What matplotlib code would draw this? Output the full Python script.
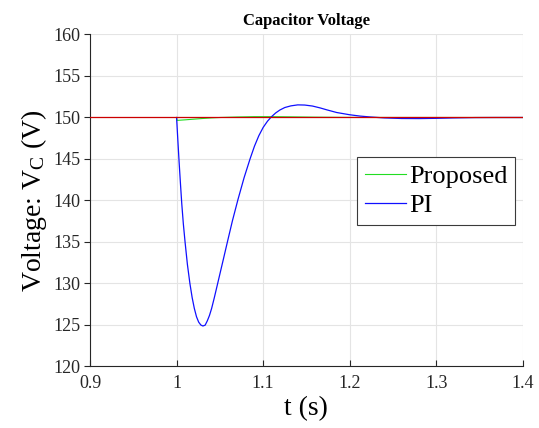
import matplotlib.pyplot as plt

# data
t_pi = [1.0, 1.0015, 1.003, 1.0045, 1.006, 1.0078, 1.0098, 1.0125, 1.0154, 1.018,
        1.0205, 1.023, 1.0255, 1.028, 1.0304, 1.033, 1.0355, 1.038, 1.0405, 1.0435,
        1.0469, 1.0505, 1.054, 1.0587, 1.0645, 1.071, 1.078, 1.085, 1.09, 1.095,
        1.1, 1.105, 1.1097, 1.1145, 1.1193, 1.125, 1.132, 1.14, 1.148,
        1.157, 1.166, 1.1736, 1.185, 1.2, 1.212, 1.224, 1.24, 1.26, 1.28,
        1.30, 1.32, 1.345, 1.37, 1.4]
v_pi = [150.0, 147.2, 144.5, 142.0, 139.6, 137.2, 135.0, 132.3, 130.0, 128.3,
        127.0, 126.0, 125.35, 125.0, 124.88, 124.98, 125.5, 126.15, 127.0, 128.25,
        129.75, 131.35, 132.9, 135.0, 137.55, 140.15, 142.75, 145.05, 146.55, 147.8,
        148.8, 149.55, 150.1, 150.55, 150.9, 151.2, 151.4, 151.52, 151.5,
        151.38, 151.15, 150.92, 150.6, 150.33, 150.17, 150.06, 149.95, 149.88, 149.87,
        149.9, 149.95, 149.99, 150.0, 150.0]

t_prop = [1.0, 1.0005, 1.01, 1.02, 1.03, 1.04, 1.05, 1.07, 1.09, 1.11, 1.13,
          1.16, 1.2, 1.25, 1.4]
v_prop = [150.0, 149.65, 149.72, 149.8, 149.88, 149.95, 150.0, 150.06, 150.1,
          150.1, 150.08, 150.04, 150.01, 150.0, 150.0]

v_ref = 150

xticks = [0.9, 1.0, 1.1, 1.2, 1.3, 1.4]
xtick_labels = ['0.9', '1', '1.1', '1.2', '1.3', '1.4']
yticks = [120, 125, 130, 135, 140, 145, 150, 155, 160]

plt.rcParams['font.family'] = ['Liberation Serif', 'DejaVu Serif']
plt.rcParams['mathtext.fontset'] = 'custom'
plt.rcParams['mathtext.rm'] = 'Liberation Serif'
plt.rcParams['mathtext.it'] = 'Liberation Serif'

fig = plt.figure(figsize=(5.39, 4.28), dpi=100)
ax = fig.add_axes([0.167, 0.1437, 0.803, 0.7757])

ax.plot(t_prop, v_prop, color='#22dd22', lw=0.8, label='Proposed')
ax.plot(t_pi, v_pi, color='#1010ff', lw=0.9, label='PI')
ax.axhline(v_ref, color='#cc0000', lw=0.9, zorder=5)

ax.set_xlim(0.9, 1.4)
ax.set_ylim(120, 160)
ax.set_xticks(xticks)
ax.set_xticklabels(xtick_labels)
ax.set_yticks(yticks)
ax.grid(True, color='#e4e4e4', lw=0.8)
ax.set_axisbelow(True)

for s in ['top', 'right']:
    ax.spines[s].set_visible(False)
for s in ['left', 'bottom']:
    ax.spines[s].set_color('#262626')
    ax.spines[s].set_linewidth(0.8)

ax.tick_params(axis='x', direction='in', length=4, labelsize=13, colors='#262626', pad=6)
ax.tick_params(axis='y', direction='out', length=4, labelsize=13, colors='#262626', pad=3)

ax.set_xlabel('t (s)', fontsize=20, labelpad=3)
ax.set_ylabel(r'Voltage: V$_\mathregular{C}$ (V)', fontsize=20, labelpad=3)
ax.set_title('Capacitor Voltage', fontsize=12, fontweight='bold', pad=7)

leg = ax.legend(loc='upper left', bbox_to_anchor=(0.617, 0.631), fontsize=19,
                frameon=True, fancybox=False, framealpha=1, edgecolor='#3a3a3a',
                handlelength=1.55, handletextpad=0.12, borderpad=0.3,
                labelspacing=0.2, borderaxespad=0)
leg.get_frame().set_linewidth(0.8)

plt.savefig('out.png', dpi=100)
